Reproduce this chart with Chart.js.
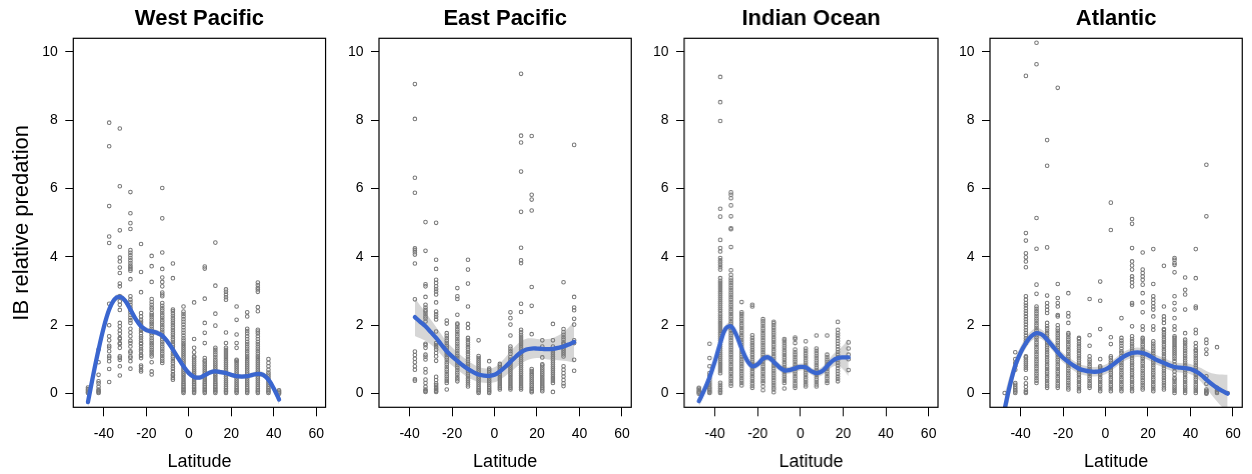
<!DOCTYPE html>
<html><head><meta charset="utf-8">
<script src="https://cdn.jsdelivr.net/npm/chart.js@4.4.1/dist/chart.umd.min.js"></script>
<style>
html,body{margin:0;padding:0;background:#fff;}
#wrap{position:relative;width:1252px;height:474px;overflow:hidden;background:#fff;}
.panel{position:absolute;top:0;height:474px;}
</style></head><body><div id="wrap"></div>
<script>
// ---------------- DATA ----------------
const latTicks = [-40, -20, 0, 20, 40, 60];
const valueTicks = [0, 2, 4, 6, 8, 10];

// West Pacific
const westPacificLat = [-47.5,-42.5,-37.5,-32.5,-27.5,-22.5,-17.5,-12.5,-7.5,-2.5,2.5,7.5,12.5,17.5,22.5,27.5,32.5,37.5,42.5];
const westPacificValues = [
 [0.02,0.05,0.09,0.13,0.18],
 [0.02,0.05,0.08,0.12,0.2,0.3,0.36,0.55,0.92,1.29],
 [0.34,0.72,0.95,1.05,1.1,1.24,1.35,1.4,1.56,1.68,2.0,2.63,4.41,4.6,5.49,7.24,7.93],
 [0.53,0.8,0.99,1.05,1.09,1.34,1.45,1.48,1.6,1.63,1.75,1.85,1.97,2.07,2.45,2.6,2.7,2.85,3.14,3.22,3.53,3.69,3.87,3.98,4.3,4.78,6.07,7.76],
 [0.73,0.95,1.05,1.09,1.2,1.24,1.38,1.48,1.55,1.68,1.79,1.9,2.07,2.15,2.22,2.3,2.38,2.45,2.52,2.6,2.68,2.75,2.85,3.35,3.6,3.65,3.7,3.75,3.82,3.9,3.97,4.05,4.12,4.2,4.82,4.99,5.28,5.9],
 [0.65,0.7,0.78,0.82,1.04,1.1,1.14,1.24,1.3,1.38,1.45,1.48,1.55,1.62,1.68,1.77,1.84,1.9,1.97,2.03,2.1,2.16,2.26,2.36,2.97,3.56,4.38],
 [0.56,0.65,0.92,1.09,1.15,1.22,1.28,1.35,1.42,1.48,1.55,1.62,1.7,1.77,1.84,1.9,1.97,2.04,2.1,2.17,2.24,2.3,2.36,2.46,2.52,2.6,2.68,2.77,3.27,3.73,4.03],
 [0.9,0.96,1.03,1.1,1.17,1.24,1.31,1.38,1.45,1.52,1.59,1.66,1.73,1.8,1.87,1.94,2.01,2.08,2.15,2.22,2.29,2.36,2.43,2.5,2.57,2.65,2.85,2.9,2.96,3.14,3.27,3.4,3.65,4.13,5.13,6.02],
 [0.41,0.46,0.52,0.57,0.65,0.73,0.8,0.88,0.95,1.02,1.09,1.16,1.23,1.3,1.37,1.44,1.51,1.58,1.65,1.72,1.79,1.86,1.93,2.0,2.07,2.14,2.21,2.28,2.35,2.42,2.46,3.38,3.81],
 [0.02,0.06,0.1,0.14,0.19,0.24,0.29,0.34,0.4,0.46,0.52,0.58,0.64,0.7,0.76,0.82,0.88,0.94,1.0,1.06,1.12,1.18,1.24,1.3,1.36,1.42,1.48,1.55,1.62,1.7,1.78,1.86,1.94,2.02,2.1,2.18,2.26,2.33,2.4,2.55],
 [0.02,0.06,0.1,0.14,0.19,0.24,0.29,0.34,0.4,0.46,0.52,0.58,0.64,0.7,0.76,0.82,0.88,0.94,1.0,1.06,1.09,1.21,1.34,1.6,2.67],
 [0.02,0.06,0.1,0.14,0.19,0.24,0.29,0.34,0.4,0.46,0.52,0.58,0.64,0.7,0.76,0.82,0.88,0.94,0.97,1.04,1.48,1.78,2.07,2.78,3.66,3.72],
 [0.02,0.06,0.1,0.14,0.19,0.24,0.29,0.34,0.4,0.46,0.52,0.58,0.64,0.7,0.76,0.82,0.88,0.94,1.0,1.07,1.14,1.21,1.28,1.34,1.99,2.34,3.16,4.42],
 [0.02,0.06,0.1,0.15,0.2,0.26,0.32,0.38,0.44,0.5,0.56,0.62,0.68,0.74,0.8,0.86,0.92,0.98,1.04,1.1,1.16,1.22,1.28,1.34,1.48,1.79,2.75,2.82,2.9,2.98,3.05],
 [0.02,0.06,0.1,0.15,0.2,0.26,0.32,0.38,0.44,0.5,0.56,0.62,0.68,0.74,0.8,0.86,0.92,0.96,0.99,1.34,1.48,1.73,2.16,2.55],
 [0.02,0.06,0.1,0.15,0.2,0.26,0.32,0.38,0.44,0.5,0.56,0.62,0.68,0.74,0.8,0.86,0.92,0.98,1.04,1.1,1.17,1.24,1.31,1.38,1.45,1.52,1.6,1.68,1.76,1.83,1.9,2.26,2.38],
 [0.02,0.06,0.1,0.15,0.2,0.26,0.32,0.38,0.44,0.5,0.56,0.62,0.68,0.74,0.8,0.86,0.92,0.98,1.04,1.1,1.17,1.24,1.31,1.38,1.45,1.52,1.6,1.68,1.76,1.82,1.87,2.41,2.53,2.98,3.05,3.1,3.18,3.25],
 [0.02,0.06,0.1,0.15,0.2,0.26,0.32,0.38,0.44,0.5,0.56,0.62,0.7,0.8,0.9,1.01],
 [0.0,0.03,0.06,0.1]
];
const westPacificFitLat = [-47.5,-45,-42.5,-40,-37.5,-35,-32.5,-30,-27.5,-25,-22.5,-20,-17.5,-15,-12.5,-10,-7.5,-5,-2.5,0,2.5,5,7.5,10,12.5,15,17.5,20,22.5,25,27.5,30,32.5,35,37.5,40,42.5];
const westPacificFit = [-0.25,0.55,1.29,1.95,2.46,2.76,2.83,2.72,2.46,2.18,1.97,1.86,1.82,1.78,1.7,1.52,1.29,1.04,0.8,0.6,0.49,0.47,0.54,0.62,0.65,0.63,0.6,0.55,0.51,0.5,0.51,0.55,0.58,0.55,0.41,0.15,-0.17];
const westPacificFitSE = [0.16,0.13,0.11,0.1,0.09,0.09,0.09,0.09,0.08,0.08,0.08,0.08,0.08,0.08,0.08,0.08,0.08,0.07,0.07,0.07,0.07,0.07,0.07,0.07,0.07,0.07,0.07,0.07,0.07,0.07,0.07,0.07,0.08,0.08,0.09,0.11,0.15];

// East Pacific
const eastPacificLat = [-37.5,-32.5,-27.5,-22.5,-17.5,-12.5,-7.5,-2.5,2.5,7.5,12.5,17.5,22.5,27.5,32.5,37.5];
const eastPacificValues = [
 [0.38,0.42,0.7,0.8,0.92,1.02,1.13,1.23,2.76,3.81,4.07,4.14,4.2,4.25,5.88,6.32,8.04,9.06],
 [0.05,0.08,0.12,0.2,0.31,0.41,0.62,0.72,1.0,1.08,1.14,1.34,1.42,1.46,2.11,2.2,2.26,2.33,2.4,2.45,2.52,2.6,2.83,3.14,3.2,4.18,5.02],
 [0.05,0.08,0.12,0.16,0.2,0.25,0.3,0.4,0.49,0.96,1.09,1.19,1.29,1.36,1.42,1.48,1.82,2.17,2.25,2.32,2.4,2.67,2.9,2.99,3.06,3.14,3.24,3.33,3.65,3.92,5.0],
 [0.12,0.31,0.37,0.43,0.5,0.57,0.64,0.71,0.78,0.85,0.92,0.99,1.06,1.13,1.2,1.27,1.34,1.41,1.48,1.55,1.62,1.69,1.77,2.05,2.14],
 [0.36,0.42,0.48,0.55,0.62,0.69,0.76,0.83,0.9,0.97,1.04,1.11,1.18,1.25,1.32,1.39,1.46,1.53,1.6,1.67,1.74,1.81,1.88,1.95,2.02,2.05,2.31,2.77,2.85,3.09],
 [0.21,0.27,0.33,0.39,0.45,0.52,0.59,0.66,0.73,0.8,0.87,0.94,1.01,1.08,1.15,1.22,1.29,1.36,1.43,1.5,1.57,1.63,1.92,2.04,2.55,3.22,3.63,3.92],
 [0.02,0.06,0.1,0.15,0.2,0.26,0.32,0.38,0.44,0.5,0.56,0.62,0.68,0.74,0.8,0.86,0.92,0.98,1.04,1.1,1.56],
 [0.02,0.06,0.1,0.15,0.2,0.26,0.32,0.38,0.44,0.5,0.56,0.62,0.68,0.73,0.95],
 [0.12,0.17,0.22,0.28,0.34,0.4,0.46,0.52,0.58,0.64,0.7,0.76,0.82,0.87],
 [0.12,0.17,0.22,0.28,0.34,0.4,0.46,0.52,0.58,0.64,0.7,0.76,0.82,0.88,0.94,1.0,1.07,1.17,1.24,1.31,1.38,1.7,2.02,2.21,2.38],
 [0.12,0.17,0.22,0.28,0.34,0.4,0.46,0.52,0.58,0.64,0.7,0.76,0.82,0.88,0.94,1.0,1.06,1.12,1.18,1.24,1.3,1.36,1.42,1.48,1.54,1.6,1.66,1.72,1.8,1.87,2.39,2.63,3.82,3.9,4.27,5.32,6.5,7.35,7.55,9.36],
 [0.04,0.08,0.13,0.18,0.24,0.3,0.36,0.42,0.48,0.54,0.6,0.66,0.72,1.74,2.57,3.12,5.36,5.68,5.82,7.54],
 [0.07,0.12,0.17,0.22,0.28,0.34,0.4,0.46,0.52,0.58,0.64,0.7,0.76,0.82,0.86,1.06,1.38,1.56],
 [0.05,0.31,0.37,0.43,0.49,0.55,0.61,0.67,0.73,0.79,0.85,0.91,0.97,1.03,1.09,1.15,1.21,1.29,1.38,1.56,2.04],
 [0.22,0.3,0.4,0.5,0.6,0.7,0.8,1.09,1.15,1.21,1.27,1.33,1.39,1.45,1.5,1.58,1.65,1.72,1.8,1.89,3.26],
 [0.67,0.99,1.48,1.56,2.02,2.19,2.44,2.52,2.83,7.28]
];
const eastPacificFitLat = [-37.5,-35,-32.5,-30,-27.5,-25,-22.5,-20,-17.5,-15,-12.5,-10,-7.5,-5,-2.5,0,2.5,5,7.5,10,12.5,15,17.5,20,22.5,25,27.5,30,32.5,35,37.5];
const eastPacificFit = [2.24,2.1,1.97,1.8,1.63,1.43,1.24,1.09,0.96,0.83,0.72,0.63,0.56,0.53,0.52,0.55,0.65,0.78,0.93,1.08,1.21,1.29,1.32,1.32,1.31,1.3,1.31,1.34,1.38,1.44,1.51];
const eastPacificFitSE = [0.55,0.48,0.42,0.36,0.32,0.3,0.28,0.27,0.26,0.25,0.24,0.23,0.22,0.21,0.21,0.22,0.24,0.27,0.3,0.32,0.33,0.32,0.3,0.28,0.28,0.3,0.32,0.36,0.42,0.5,0.6];

// Indian Ocean
const indianOceanLat = [-47.5,-42.5,-37.5,-32.5,-27.5,-22.5,-17.5,-12.5,-7.5,-2.5,2.5,7.5,12.5,17.5,22.5];
const indianOceanValues = [
 [0.0,0.03,0.06,0.1,0.14,0.17],
 [0.02,0.05,0.09,0.14,0.19,0.25,0.31,0.38,0.45,0.52,0.6,0.8,1.04,1.46],
 [0.02,0.06,0.1,0.15,0.2,0.26,0.32,0.6,0.66,0.72,0.78,0.84,0.9,0.96,1.02,1.08,1.14,1.2,1.26,1.32,1.38,1.44,1.5,1.56,1.62,1.68,1.74,1.8,1.86,1.92,1.98,2.04,2.1,2.16,2.22,2.28,2.34,2.41,2.46,2.52,2.58,2.64,2.7,2.76,2.82,2.88,2.94,3.0,3.06,3.12,3.18,3.24,3.3,3.38,3.63,3.7,3.77,3.84,3.9,3.97,4.16,4.26,4.5,5.18,5.41,7.98,8.53,9.27],
 [0.23,0.3,0.37,0.44,0.51,0.58,0.65,0.72,0.79,0.86,0.93,1.0,1.07,1.14,1.21,1.28,1.35,1.42,1.49,1.56,1.63,1.7,1.77,1.84,1.91,1.98,2.05,2.12,2.19,2.26,2.33,2.4,2.47,2.54,2.61,2.68,2.75,2.82,2.89,2.96,3.03,3.1,3.17,3.24,3.31,3.38,3.48,3.61,4.29,4.81,4.84,5.19,5.51,5.72,5.82,5.89],
 [0.24,0.31,0.38,0.45,0.52,0.59,0.66,0.73,0.8,0.87,0.94,1.01,1.08,1.15,1.22,1.29,1.36,1.43,1.5,1.57,1.64,1.71,1.78,1.85,1.92,1.99,2.06,2.13,2.2,2.27,2.33,2.38,2.68],
 [0.17,0.23,0.3,0.37,0.44,0.51,0.58,0.65,0.72,0.79,0.86,0.93,1.0,1.07,1.14,1.21,1.28,1.35,1.42,1.49,1.56,1.63,1.71,2.55,2.6],
 [0.1,0.21,0.31,0.37,0.44,0.51,0.58,0.65,0.72,0.79,0.86,0.93,1.0,1.07,1.14,1.21,1.28,1.35,1.42,1.49,1.56,1.63,1.7,1.77,1.84,1.91,1.98,2.05,2.12,2.18],
 [0.04,0.12,0.18,0.25,0.32,0.39,0.46,0.53,0.6,0.67,0.74,0.81,0.88,0.95,1.02,1.09,1.16,1.23,1.3,1.37,1.44,1.51,1.58,1.65,1.72,1.79,1.86,1.93,2.0,2.06,2.1],
 [0.15,0.31,0.37,0.43,0.5,0.57,0.64,0.71,0.78,0.85,0.92,0.99,1.06,1.13,1.2,1.27,1.34,1.41,1.48,1.55,1.6],
 [0.17,0.23,0.3,0.37,0.44,0.51,0.58,0.65,0.72,0.79,0.86,0.93,1.0,1.07,1.14,1.21,1.29,1.48,1.6,1.64],
 [0.21,0.27,0.34,0.41,0.48,0.55,0.62,0.69,0.76,0.83,0.9,0.97,1.04,1.11,1.18,1.25,1.32,1.53],
 [0.21,0.27,0.34,0.41,0.48,0.55,0.62,0.69,0.76,0.83,0.9,0.97,1.04,1.11,1.18,1.25,1.32,1.7],
 [0.31,0.37,0.44,0.51,0.58,0.65,0.72,0.79,0.86,0.93,1.0,1.07,1.14,1.7],
 [0.36,0.43,0.5,0.58,0.66,0.74,0.82,0.9,0.98,1.06,1.14,1.22,1.3,1.38,1.46,1.54,1.62,1.7,1.77,1.87,2.1],
 [0.69,1.01,1.14,1.32,1.5]
];
const indianOceanFitLat = [-47.5,-45,-42.5,-40,-37.5,-35,-32.5,-30,-27.5,-25,-22.5,-20,-17.5,-15,-12.5,-10,-7.5,-5,-2.5,0,2.5,5,7.5,10,12.5,15,17.5,20,22.5];
const indianOceanFit = [-0.22,0.1,0.48,0.95,1.48,1.9,1.97,1.72,1.32,0.98,0.8,0.86,1.02,1.06,0.93,0.78,0.68,0.69,0.74,0.78,0.77,0.66,0.6,0.65,0.8,0.96,1.04,1.06,1.06];
const indianOceanFitSE = [0.16,0.13,0.12,0.11,0.11,0.11,0.11,0.11,0.1,0.1,0.1,0.1,0.1,0.1,0.1,0.1,0.1,0.1,0.1,0.1,0.1,0.1,0.11,0.12,0.14,0.17,0.23,0.35,0.55];

// Atlantic
const atlanticLat = [-47.5,-42.5,-37.5,-32.5,-27.5,-22.5,-17.5,-12.5,-7.5,-2.5,2.5,7.5,12.5,17.5,22.5,27.5,32.5,37.5,42.5,47.5,52.5,57.5];
const atlanticValues = [
 [0.02],
 [0.02,0.06,0.1,0.15,0.2,0.26,0.31,0.7,0.8,0.9,1.01,1.21],
 [0.02,0.05,0.1,0.2,0.3,0.45,0.7,0.76,0.82,0.88,0.94,1.0,1.06,1.09,1.48,1.55,1.62,1.7,1.78,1.86,1.94,2.02,2.1,2.18,2.26,2.34,2.42,2.5,2.58,2.65,2.75,2.85,3.7,3.87,3.99,4.11,4.48,4.7,9.3],
 [0.31,0.38,0.45,0.52,0.59,0.66,0.73,0.8,0.87,0.94,1.01,1.08,1.15,1.22,1.29,1.36,1.43,1.5,1.57,1.64,1.71,1.78,1.85,1.92,1.99,2.06,2.13,2.2,2.27,2.34,2.41,2.48,2.55,2.92,3.19,4.24,5.14,9.64,10.27],
 [0.17,0.23,0.3,0.37,0.44,0.51,0.58,0.65,0.72,0.79,0.86,0.93,1.0,1.07,1.14,1.21,1.28,1.35,1.42,1.49,1.56,1.63,1.7,1.77,1.84,1.91,1.98,2.07,2.36,2.45,2.55,2.65,2.87,4.28,6.67,7.42],
 [0.17,0.23,0.3,0.37,0.44,0.51,0.58,0.65,0.72,0.79,0.86,0.93,1.0,1.07,1.14,1.21,1.28,1.35,1.42,1.49,1.56,1.63,1.7,1.77,1.84,1.91,2.0,2.26,2.3,2.55,2.65,2.8,3.21,8.95],
 [0.12,0.18,0.25,0.32,0.39,0.46,0.53,0.6,0.67,0.74,0.81,0.88,0.95,1.02,1.09,1.16,1.23,1.3,1.37,1.44,1.51,1.58,1.65,1.72,1.77,2.07,2.26,2.36,2.94],
 [0.07,0.13,0.2,0.27,0.34,0.41,0.48,0.55,0.62,0.69,0.76,0.83,0.9,0.97,1.04,1.11,1.18,1.25,1.32,1.39,1.46,1.53,1.6,1.63],
 [0.17,0.23,0.3,0.37,0.44,0.51,0.58,0.65,0.72,0.79,0.86,0.93,1.0,1.09,1.4,1.71,2.77],
 [0.07,0.13,0.2,0.27,0.34,0.41,0.48,0.55,0.62,0.69,0.76,0.8,1.01,1.89,2.72,3.28],
 [0.07,0.13,0.2,0.27,0.34,0.41,0.48,0.55,0.62,0.69,0.76,0.83,0.9,0.97,1.04,1.09,1.45,1.65,4.79,5.59],
 [0.07,0.13,0.2,0.27,0.34,0.41,0.48,0.55,0.62,0.69,0.76,0.83,0.9,0.97,1.04,1.11,1.19,1.24,1.32,1.4,1.48,1.55,1.63,2.21],
 [0.07,0.13,0.2,0.27,0.34,0.41,0.48,0.55,0.62,0.69,0.76,0.83,0.9,0.97,1.04,1.11,1.18,1.25,1.32,1.39,1.46,1.53,1.6,1.68,1.97,2.6,2.65,3.14,3.25,3.35,3.43,3.63,3.75,3.87,4.26,4.97,5.11],
 [0.12,0.18,0.25,0.32,0.39,0.46,0.53,0.6,0.67,0.74,0.81,0.88,0.95,1.02,1.09,1.16,1.23,1.3,1.37,1.44,1.51,1.58,1.63,1.87,1.97,2.38,2.67,2.94,3.19,3.33,3.43,3.53,3.63,4.13],
 [0.07,0.13,0.2,0.27,0.34,0.41,0.48,0.55,0.62,0.69,0.76,0.83,0.9,0.97,1.04,1.11,1.18,1.25,1.32,1.39,1.46,1.53,1.87,1.97,2.26,2.46,2.55,2.65,2.75,2.85,3.21,4.23],
 [0.12,0.18,0.25,0.32,0.39,0.46,0.53,0.6,0.67,0.74,0.81,0.88,0.95,1.02,1.09,1.16,1.23,1.3,1.37,1.44,1.51,1.58,1.65,1.72,1.79,1.86,1.89,2.07,2.17,2.26,2.55,3.74],
 [0.02,0.08,0.14,0.2,0.27,0.34,0.41,0.46,0.55,0.65,0.75,0.85,0.95,1.02,1.09,1.15,1.21,1.27,1.33,1.39,1.45,1.51,1.57,1.63,1.68,1.87,1.97,2.21,2.46,2.65,2.85,3.55,3.77,3.82,3.92,3.97],
 [0.02,0.08,0.14,0.2,0.27,0.34,0.41,0.48,0.55,0.62,0.69,0.76,0.83,0.9,0.97,1.04,1.11,1.18,1.25,1.32,1.39,1.46,1.52,1.58,1.77,2.46,2.9,3.04,3.4],
 [0.02,0.08,0.14,0.2,0.27,0.34,0.41,0.48,0.55,0.62,0.69,0.76,0.83,0.9,0.97,1.04,1.11,1.18,1.25,1.29,1.38,1.48,1.77,1.87,2.5,2.55,3.38,4.23],
 [0.0,0.02,0.04,0.08,0.12,0.29,0.51,1.16,1.29,1.48,1.58,5.19,6.7],
 [0.02,0.06,0.1,0.14,0.17,1.36],
 [0.02]
];
const atlanticFitLat = [-47.5,-45,-42.5,-40,-37.5,-35,-32.5,-30,-27.5,-25,-22.5,-20,-17.5,-15,-12.5,-10,-7.5,-5,-2.5,0,2.5,5,7.5,10,12.5,15,17.5,20,22.5,25,27.5,30,32.5,35,37.5,40,42.5,45,47.5,50,52.5,55,57.5];
const atlanticFit = [-0.45,0.25,0.82,1.2,1.48,1.68,1.77,1.73,1.58,1.4,1.21,1.05,0.93,0.82,0.73,0.68,0.65,0.64,0.66,0.71,0.8,0.92,1.04,1.13,1.19,1.21,1.19,1.13,1.04,0.96,0.9,0.83,0.78,0.76,0.75,0.72,0.65,0.55,0.41,0.28,0.17,0.08,0.0];
const atlanticFitSE = [0.45,0.3,0.22,0.18,0.16,0.15,0.15,0.14,0.14,0.14,0.14,0.14,0.14,0.14,0.14,0.14,0.14,0.14,0.14,0.14,0.14,0.14,0.14,0.14,0.14,0.14,0.14,0.14,0.14,0.14,0.14,0.14,0.14,0.14,0.14,0.15,0.16,0.2,0.25,0.32,0.4,0.48,0.55];

// ---------------- DRAWING ----------------
Chart.defaults.font.family = "'Liberation Sans', Arial, Helvetica, sans-serif";
Chart.defaults.color = '#000';

const boxPlugin = {
  id: 'plotBox',
  afterDraw(chart) {
    const a = chart.chartArea, c = chart.ctx;
    c.save();
    c.strokeStyle = '#000';
    c.lineWidth = 1.2;
    c.strokeRect(a.left, a.top, a.right - a.left, a.bottom - a.top);
    c.restore();
  }
};

const X_MIN = -54.4, X_MAX = 64.4, Y_MIN = -0.4, Y_MAX = 10.4;
const TOP = 38.3, BOTTOM = 407.3, H = 474, RIGHT_PAD = 4;

function makePanel(p) {
  const yW = p.yTitle ? p.left : 50;
  const L = p.left - yW;
  const W = yW + (p.right - p.left) + RIGHT_PAD;
  const div = document.createElement('div');
  div.className = 'panel';
  div.style.left = L + 'px';
  div.style.width = W + 'px';
  const cv = document.createElement('canvas');
  div.appendChild(cv);
  document.getElementById('wrap').appendChild(div);

  const pts = [];
  p.lat.forEach((la, i) => p.vals[i].forEach(v => pts.push({x: la, y: v})));
  const upper = p.fitLat.map((la, i) => ({x: la, y: p.fit[i] + p.se[i]}));
  const lower = p.fitLat.map((la, i) => ({x: la, y: p.fit[i] - p.se[i]}));
  const line = p.fitLat.map((la, i) => ({x: la, y: p.fit[i]}));

  new Chart(cv, {
    type: 'scatter',
    data: {datasets: [
      {type: 'line', data: upper, showLine: true, borderWidth: 0, borderColor: 'rgba(0,0,0,0)', pointRadius: 0, fill: false, tension: 0.35, order: 4, clip: 0},
      {type: 'line', data: lower, showLine: true, borderWidth: 0, borderColor: 'rgba(0,0,0,0)', pointRadius: 0, fill: '-1', backgroundColor: '#d6d6d6', tension: 0.35, order: 3, clip: 0},
      {type: 'scatter', data: pts, pointRadius: 1.8, pointBorderWidth: 1.05, borderColor: '#787878', pointBorderColor: '#787878', backgroundColor: 'rgba(0,0,0,0)', pointBackgroundColor: 'rgba(0,0,0,0)', order: 2},
      {type: 'line', data: line, showLine: true, borderColor: '#3a66cf', borderWidth: 4.3, pointRadius: 0, fill: false, tension: 0.35, order: 1, clip: 0, borderCapStyle: 'round'}
    ]},
    options: {
      responsive: true, maintainAspectRatio: false, animation: false,
      events: [],
      layout: {padding: {left: 0, right: RIGHT_PAD, top: 0, bottom: 0}},
      plugins: {
        legend: {display: false}, tooltip: {enabled: false},
        title: {display: true, text: p.title, fullSize: false, color: '#000',
                font: {size: 22, weight: 'bold'}, padding: {top: 6, bottom: TOP - 6 - 26.4}}
      },
      scales: {
        x: {
          type: 'linear', position: 'bottom', min: X_MIN, max: X_MAX, bounds: 'data',
          afterBuildTicks(s) { s.ticks = latTicks.map(v => ({value: v})); },
          ticks: {includeBounds: false, autoSkip: false, maxRotation: 0, color: '#000', font: {size: 14}, padding: 9},
          grid: {drawOnChartArea: false, drawTicks: true, tickLength: 9, color: '#000', lineWidth: 1},
          border: {display: false},
          title: {display: true, text: 'Latitude', color: '#000', font: {size: 18}, padding: {top: 0, bottom: 1}},
          afterFit(s) { s.height = H - BOTTOM; }
        },
        y: {
          type: 'linear', position: 'left', min: Y_MIN, max: Y_MAX, bounds: 'data',
          afterBuildTicks(s) { s.ticks = valueTicks.map(v => ({value: v})); },
          ticks: {includeBounds: false, autoSkip: false, color: '#000', font: {size: 14}, padding: 7.5},
          grid: {drawOnChartArea: false, drawTicks: true, tickLength: 8, color: '#000', lineWidth: 1},
          border: {display: false},
          title: {display: p.yTitle, text: 'IB relative predation', color: '#000', font: {size: 22}, padding: {top: 8.8, bottom: 0}},
          afterFit(s) { s.width = yW; }
        }
      }
    },
    plugins: [boxPlugin]
  });
}

makePanel({title: 'West Pacific', lat: westPacificLat, vals: westPacificValues, fitLat: westPacificFitLat, fit: westPacificFit, se: westPacificFitSE, left: 73.3, right: 329.3, yTitle: true});
makePanel({title: 'East Pacific', lat: eastPacificLat, vals: eastPacificValues, fitLat: eastPacificFitLat, fit: eastPacificFit, se: eastPacificFitSE, left: 379.3, right: 635.3, yTitle: false});
makePanel({title: 'Indian Ocean', lat: indianOceanLat, vals: indianOceanValues, fitLat: indianOceanFitLat, fit: indianOceanFit, se: indianOceanFitSE, left: 684.3, right: 941, yTitle: false});
makePanel({title: 'Atlantic', lat: atlanticLat, vals: atlanticValues, fitLat: atlanticFitLat, fit: atlanticFit, se: atlanticFitSE, left: 990, right: 1246, yTitle: false});
</script>
</body></html>
